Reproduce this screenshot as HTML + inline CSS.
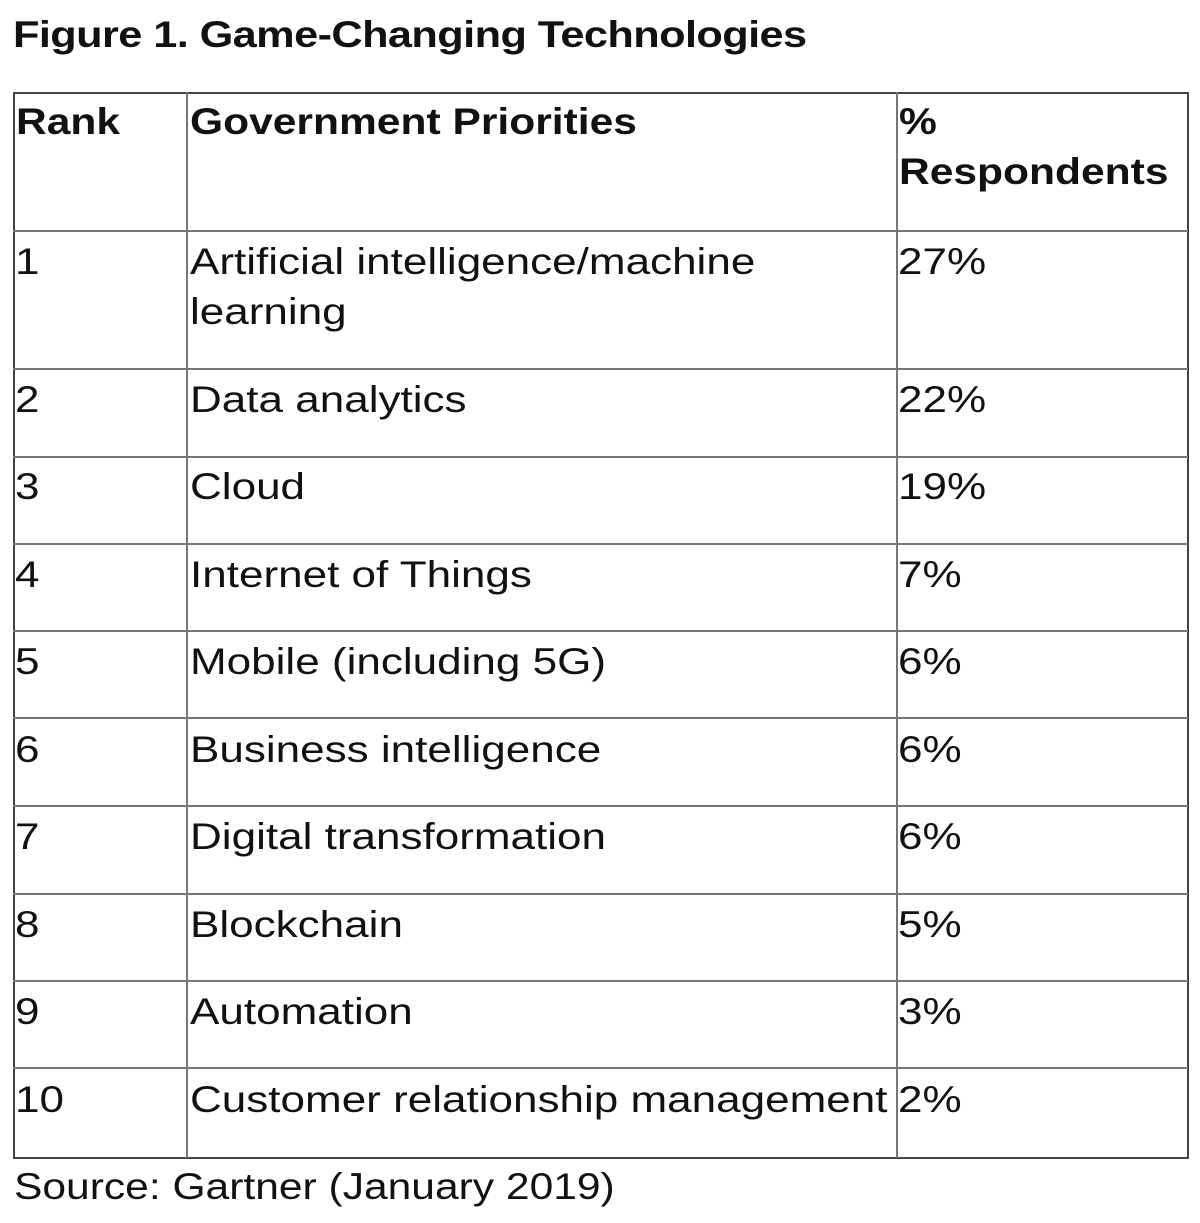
<!DOCTYPE html>
<html><head><style>
body{margin:0;width:1200px;height:1223px;background:#fff;position:relative;font-family:"Liberation Sans",sans-serif;color:#111;overflow:hidden}
.t{position:absolute;font-size:37px;line-height:50px;white-space:nowrap;transform:scaleX(1.19);transform-origin:0 0}
.b{font-weight:bold;transform:scaleX(1.15)}
.h{position:absolute;left:13px;width:1175px;height:2px;background:#777}
.v{position:absolute;top:92px;height:1066px;width:2px;background:#777}
</style></head><body>
<div class="t b" style="left:13px;top:10px;font-size:37px;letter-spacing:-0.5px;transform:scaleX(1.17)">Figure 1. Game-Changing Technologies</div>
<div style="position:absolute;left:13px;top:92px;width:1172px;height:1063px;border:2px solid #444"></div>
<div class="v" style="left:186px"></div>
<div class="v" style="left:896px"></div>
<div class="h" style="top:230px"></div>
<div class="h" style="top:368px"></div>
<div class="h" style="top:456px"></div>
<div class="h" style="top:543px"></div>
<div class="h" style="top:630px"></div>
<div class="h" style="top:717px"></div>
<div class="h" style="top:805px"></div>
<div class="h" style="top:893px"></div>
<div class="h" style="top:980px"></div>
<div class="h" style="top:1067px"></div>
<div class="t b" style="left:16px;top:97px">Rank</div>
<div class="t b" style="left:190px;top:97px">Government Priorities</div>
<div class="t b" style="left:899px;top:97px">%<br>Respondents</div>
<div class="t" style="left:15px;top:237px">1</div><div class="t" style="left:190px;top:237px">Artificial intelligence/machine<br>learning</div><div class="t" style="left:898px;top:237px">27%</div>
<div class="t" style="left:15px;top:375px">2</div><div class="t" style="left:190px;top:375px">Data analytics</div><div class="t" style="left:898px;top:375px">22%</div>
<div class="t" style="left:15px;top:462px">3</div><div class="t" style="left:190px;top:462px">Cloud</div><div class="t" style="left:898px;top:462px">19%</div>
<div class="t" style="left:15px;top:550px">4</div><div class="t" style="left:190px;top:550px">Internet of Things</div><div class="t" style="left:898px;top:550px">7%</div>
<div class="t" style="left:15px;top:637px">5</div><div class="t" style="left:190px;top:637px">Mobile (including 5G)</div><div class="t" style="left:898px;top:637px">6%</div>
<div class="t" style="left:15px;top:725px">6</div><div class="t" style="left:190px;top:725px">Business intelligence</div><div class="t" style="left:898px;top:725px">6%</div>
<div class="t" style="left:15px;top:812px">7</div><div class="t" style="left:190px;top:812px">Digital transformation</div><div class="t" style="left:898px;top:812px">6%</div>
<div class="t" style="left:15px;top:900px">8</div><div class="t" style="left:190px;top:900px">Blockchain</div><div class="t" style="left:898px;top:900px">5%</div>
<div class="t" style="left:15px;top:987px">9</div><div class="t" style="left:190px;top:987px">Automation</div><div class="t" style="left:898px;top:987px">3%</div>
<div class="t" style="left:15px;top:1075px">10</div><div class="t" style="left:190px;top:1075px">Customer relationship management</div><div class="t" style="left:898px;top:1075px">2%</div>
<div class="t" style="left:14px;top:1162px;transform:scaleX(1.15)">Source: Gartner (January 2019)</div>
</body></html>
